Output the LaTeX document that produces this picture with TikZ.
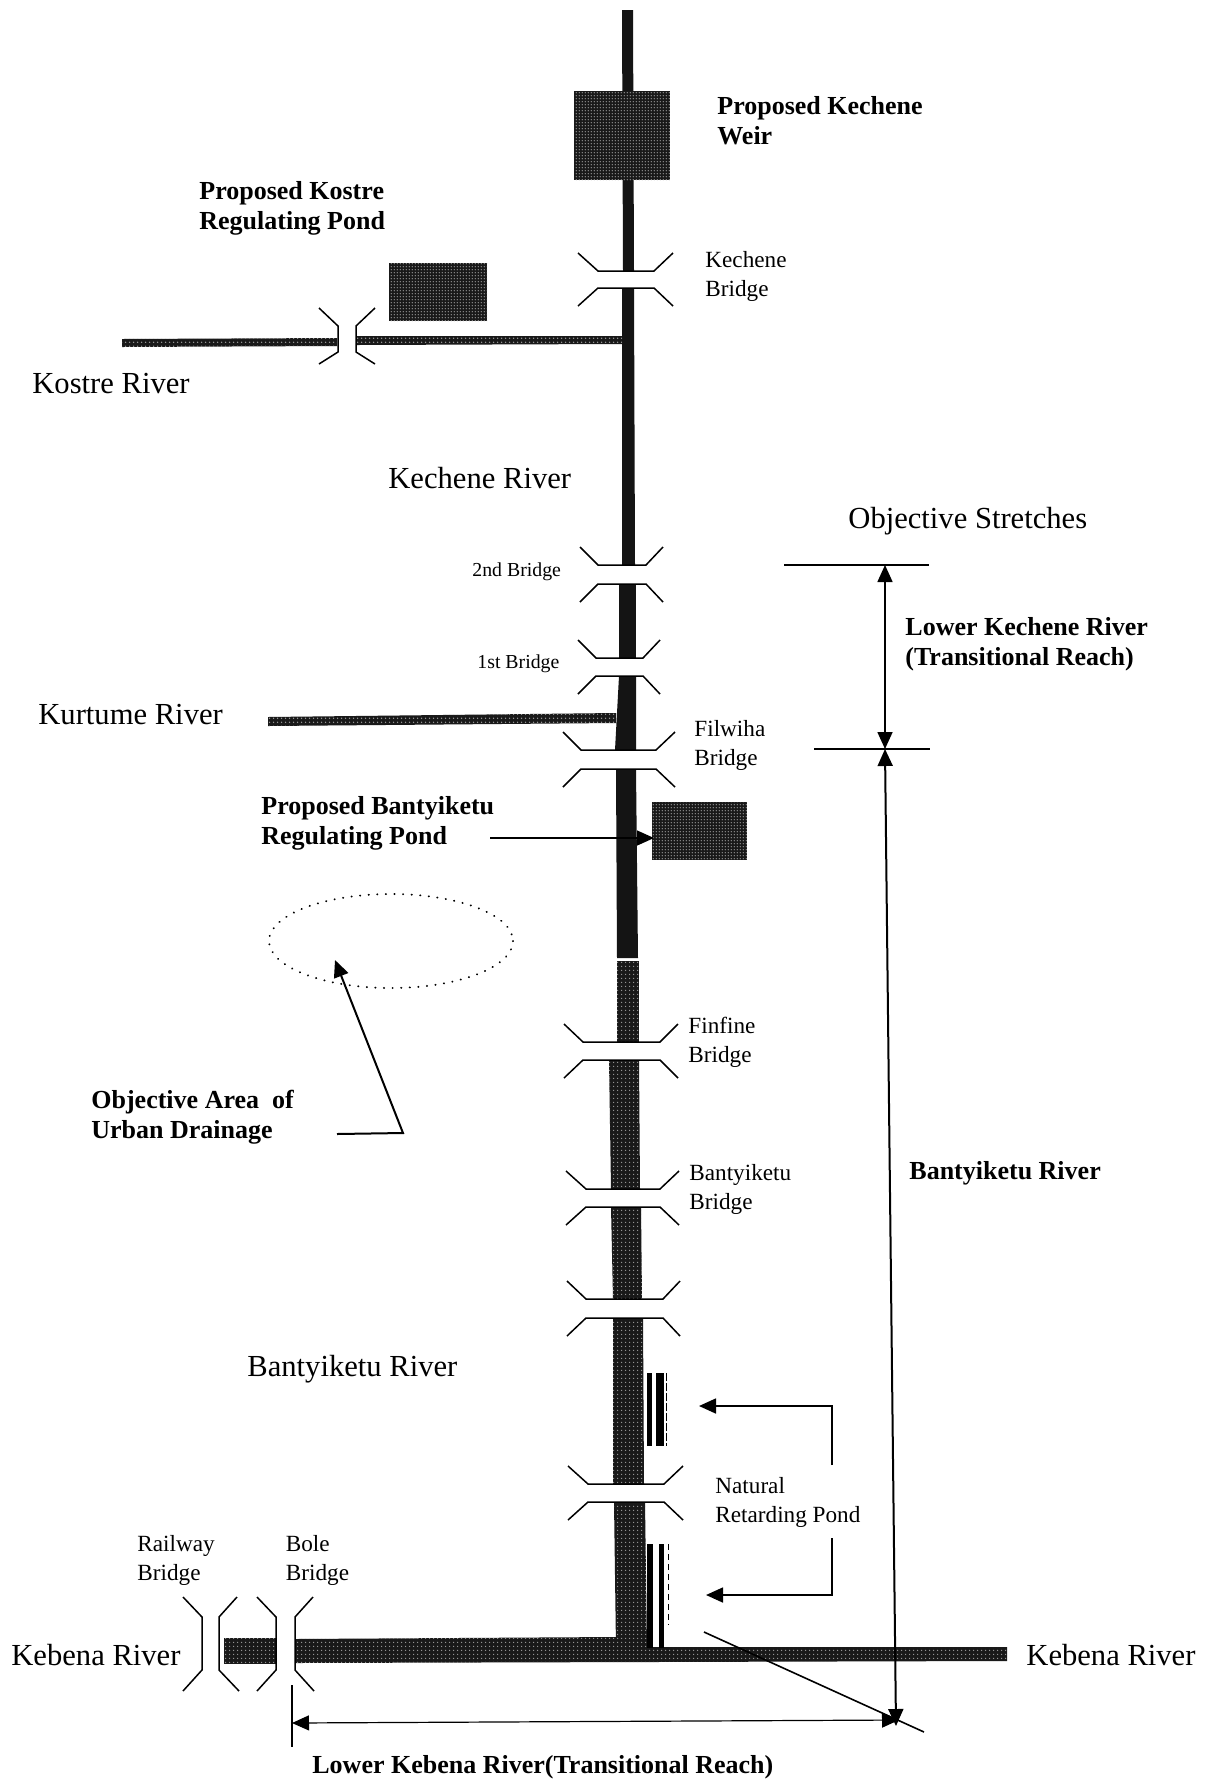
\documentclass[tikz,border=0pt]{standalone}
\usepackage{fontspec}
\setmainfont{Liberation Serif}
\usetikzlibrary{arrows.meta,patterns}
\pgfdeclarepatternformonly{htone}{\pgfpointorigin}{\pgfqpoint{2pt}{2pt}}{\pgfqpoint{2pt}{2pt}}{\pgfpathcircle{\pgfqpoint{1pt}{1pt}}{0.42pt}\pgfusepath{fill}}
\pgfdeclarepatternformonly{htfine}{\pgfpointorigin}{\pgfqpoint{1.6pt}{1.6pt}}{\pgfqpoint{1.6pt}{1.6pt}}{\pgfpathcircle{\pgfqpoint{0.8pt}{0.8pt}}{0.38pt}\pgfusepath{fill}}
\tikzset{
  darkriver/.style={fill=black!92},
  midriver/.style={fill=black!90,postaction={pattern=htone,pattern color=gray!75}},
  pond/.style={fill=black!90,postaction={pattern=htfine,pattern color=gray!70}},
  bridgeline/.style={draw=black,line width=0.75pt,line join=miter},
  dimline/.style={draw=black,line width=0.8pt},
  thinline/.style={draw=black,line width=0.6pt},
  tip/.style={-{Triangle[length=8.5pt,width=7.5pt]}},
  bigtxt/.style={anchor=west,inner sep=0pt,font=\fontsize{15.3}{17}\selectfont},
  boldtxt/.style={anchor=west,inner sep=0pt,align=left,font=\fontsize{13}{15}\selectfont\bfseries},
  smalltxt/.style={anchor=west,inner sep=0pt,align=left,font=\fontsize{11.6}{14.5}\selectfont},
  tinytxt/.style={anchor=west,inner sep=0pt,font=\fontsize{9.9}{12}\selectfont},
}
\newcommand{\brV}[6]{%
  \draw[bridgeline] (#1,#5-18) -- (#2,#5) -- (#3,#5) -- (#4,#5-18);
  \draw[bridgeline] (#1,#6+18) -- (#2,#6) -- (#3,#6) -- (#4,#6+18);}
\begin{document}
\begin{tikzpicture}[x=0.5pt,y=-0.5pt]
\useasboundingbox (0,0) rectangle (1210,1784);
\fill[white] (0,0) rectangle (1210,1784);

% main river, top to bottom
\fill[darkriver] (622,10) -- (633,10) -- (634,271) -- (623,271) -- cycle;
\fill[darkriver] (622,288) -- (634,288) -- (635,565) -- (622,565) -- cycle;
\fill[darkriver] (619,584) -- (636,584) -- (636,658) -- (619,658) -- cycle;
\fill[darkriver] (619,676) -- (636,676) -- (636,750) -- (615,750) -- cycle;
\fill[darkriver] (616,769) -- (636,769) -- (638,958) -- (617,958) -- cycle;
\fill[midriver] (617,961) -- (639,961) -- (639,1042) -- (617,1042) -- cycle;
\fill[midriver] (609,1060) -- (639,1060) -- (640,1189) -- (611,1189) -- cycle;
\fill[midriver] (611,1207) -- (641,1207) -- (642,1299) -- (613,1299) -- cycle;
\fill[midriver] (613,1318) -- (643,1318) -- (644,1484) -- (613,1484) -- cycle;
\fill[midriver] (614,1502) -- (645,1502) -- (647,1648) -- (616,1648) -- cycle;

% tributaries
\fill[midriver] (122,339) -- (337,338) -- (337,346) -- (122,347) -- cycle;
\fill[midriver] (357,336) -- (622,336) -- (622,344) -- (357,345) -- cycle;
\fill[midriver] (268,717) -- (616,713) -- (616,723) -- (268,726) -- cycle;

% Kebena river
\fill[midriver] (224,1638) -- (276,1638) -- (276,1664) -- (224,1664) -- cycle;
\fill[midriver] (295,1639) -- (616,1637) -- (647,1637) -- (647,1647) -- (1007,1647) -- (1007,1661) -- (295,1663) -- cycle;

% ponds and weir
\fill[pond] (574,91) rectangle (670,180);
\fill[pond] (389,263) rectangle (487,321);
\fill[pond] (652,802) rectangle (747,860);

% retarding strips
\fill[black] (647,1373) rectangle (652,1446);
\fill[black] (656,1373) rectangle (664,1446);
\draw[black,line width=0.5pt,dash pattern=on 4pt off 1pt] (666,1373) -- (666,1446);
\fill[black] (647,1544) rectangle (653,1648);
\fill[black] (659,1544) rectangle (664,1648);
\draw[black,line width=0.5pt,dash pattern=on 3pt off 2pt] (668,1544) -- (668,1625);

% vertical-river bridges
\brV{578}{598}{654}{673}{271}{288}
\brV{580}{598}{646}{663}{565}{584}
\brV{578}{596}{643}{660}{658}{676}
\brV{563}{581}{656}{675}{750}{769}
\brV{564}{583}{660}{678}{1042}{1060}
\brV{566}{586}{660}{679}{1189}{1207}
\brV{567}{586}{663}{680}{1299}{1318}
\brV{568}{588}{664}{683}{1484}{1502}

% horizontal-river bridges
\draw[bridgeline] (319,308) -- (338,326) -- (338,352) -- (319,364);
\draw[bridgeline] (375,308) -- (356,326) -- (356,352) -- (375,364);
\draw[bridgeline] (183,1597) -- (202,1617) -- (202,1670) -- (183,1691);
\draw[bridgeline] (237,1597) -- (219,1617) -- (219,1670) -- (239,1691);
\draw[bridgeline] (257,1597) -- (276,1617) -- (276,1670) -- (257,1691);
\draw[bridgeline] (313,1597) -- (295,1617) -- (295,1670) -- (314,1691);

% objective area ellipse
\draw[black,line width=1pt,line cap=round,dash pattern=on 0.1pt off 4.2pt] (391,941) ellipse [x radius=122,y radius=47];

% coordinates of connector ends
\coordinate (pondTail) at (490,838);
\coordinate (pondTip) at (654,838);
\coordinate (areaTail) at (337,1134);
\coordinate (areaBend) at (403,1133);
\coordinate (areaTip) at (335,960);
\coordinate (natBendA) at (832,1406);
\coordinate (natStartA) at (832,1465);
\coordinate (natTipA) at (699,1406);
\coordinate (natBendB) at (832,1595);
\coordinate (natStartB) at (832,1538);
\coordinate (natTipB) at (706,1595);
\coordinate (dimTop) at (885,565);
\coordinate (dimMid) at (885,749);
\coordinate (dimBot) at (896,1726);
\coordinate (dimLeft) at (292,1723);
\coordinate (dimRight) at (899,1720);
\coordinate (topTickL) at (784,565);
\coordinate (topTickR) at (929,565);
\coordinate (midTickL) at (814,749);
\coordinate (midTickR) at (930,749);
\coordinate (leftTickT) at (292,1685);
\coordinate (leftTickB) at (292,1747);
\coordinate (diagA) at (704,1632);
\coordinate (diagB) at (924,1732);

% leader arrows
\draw[thinline,tip] (pondTail) -- (pondTip);
\draw[dimline,line width=1pt,tip,line join=miter] (areaTail) -- (areaBend) -- (areaTip);
\draw[dimline,tip,line join=miter] (natStartA) -- (natBendA) -- (natTipA);
\draw[dimline,tip,line join=miter] (natStartB) -- (natBendB) -- (natTipB);

% dimension lines
\draw[thinline] (topTickL) -- (topTickR);
\draw[thinline] (midTickL) -- (midTickR);
\draw[dimline,{Triangle[length=8.5pt,width=7.5pt]}-{Triangle[length=8.5pt,width=7.5pt]}] (dimTop) -- (dimMid);
\draw[dimline,line width=1pt,{Triangle[length=8.5pt,width=7.5pt]}-{Triangle[length=8.5pt,width=7.5pt]}] (dimMid) -- (dimBot);
\draw[thinline,{Triangle[length=8.5pt,width=7.5pt]}-{Triangle[length=8.5pt,width=7.5pt]}] (dimLeft) -- (dimRight);
\draw[dimline] (leftTickT) -- (leftTickB);
\draw[dimline] (diagA) -- (diagB);

% labels
\node[boldtxt] (lWeir) at (717,121) {Proposed Kechene\\Weir};
\node[boldtxt] (lKostrePond) at (199,208) {Proposed Kostre\\Regulating Pond};
\node[smalltxt] (lKecheneBr) at (705,276.5) {Kechene\\Bridge};
\node[bigtxt] (lKostre) at (32,384) {Kostre River};
\node[bigtxt] (lKechene) at (388,478) {Kechene River};
\node[bigtxt] (lObjective) at (848,521) {Objective Stretches};
\node[tinytxt] (l2nd) at (472,572) {2nd Bridge};
\node[tinytxt] (l1st) at (477,664) {1st Bridge};
\node[boldtxt] (lLowerKech) at (905,644) {Lower Kechene River\\(Transitional Reach)};
\node[bigtxt] (lKurtume) at (38,715) {Kurtume River};
\node[smalltxt] (lFilwiha) at (694,745) {Filwiha\\Bridge};
\node[boldtxt] (lBantPond) at (261,823) {Proposed Bantyiketu\\Regulating Pond};
\node[boldtxt] (lArea) at (91,1117) {Objective Area\ \ of\\Urban Drainage};
\node[smalltxt] (lFinfine) at (688,1042.5) {Finfine\\Bridge};
\node[smalltxt] (lBantBr) at (689,1189) {Bantyiketu\\Bridge};
\node[boldtxt] (lBantBold) at (909,1173) {Bantyiketu River};
\node[bigtxt] (lBant) at (247,1369) {Bantyiketu River};
\node[smalltxt] (lNatural) at (715,1502.5) {Natural\\Retarding Pond};
\node[smalltxt] (lRailway) at (137,1560) {Railway\\Bridge};
\node[smalltxt] (lBole) at (285.5,1560) {Bole\\Bridge};
\node[bigtxt] (lKebL) at (11,1655) {Kebena River};
\node[bigtxt] (lKebR) at (1026,1655) {Kebena River};
\node[boldtxt] (lLowerKeb) at (312,1767) {Lower Kebena River(Transitional Reach)};
\end{tikzpicture}
\end{document}
